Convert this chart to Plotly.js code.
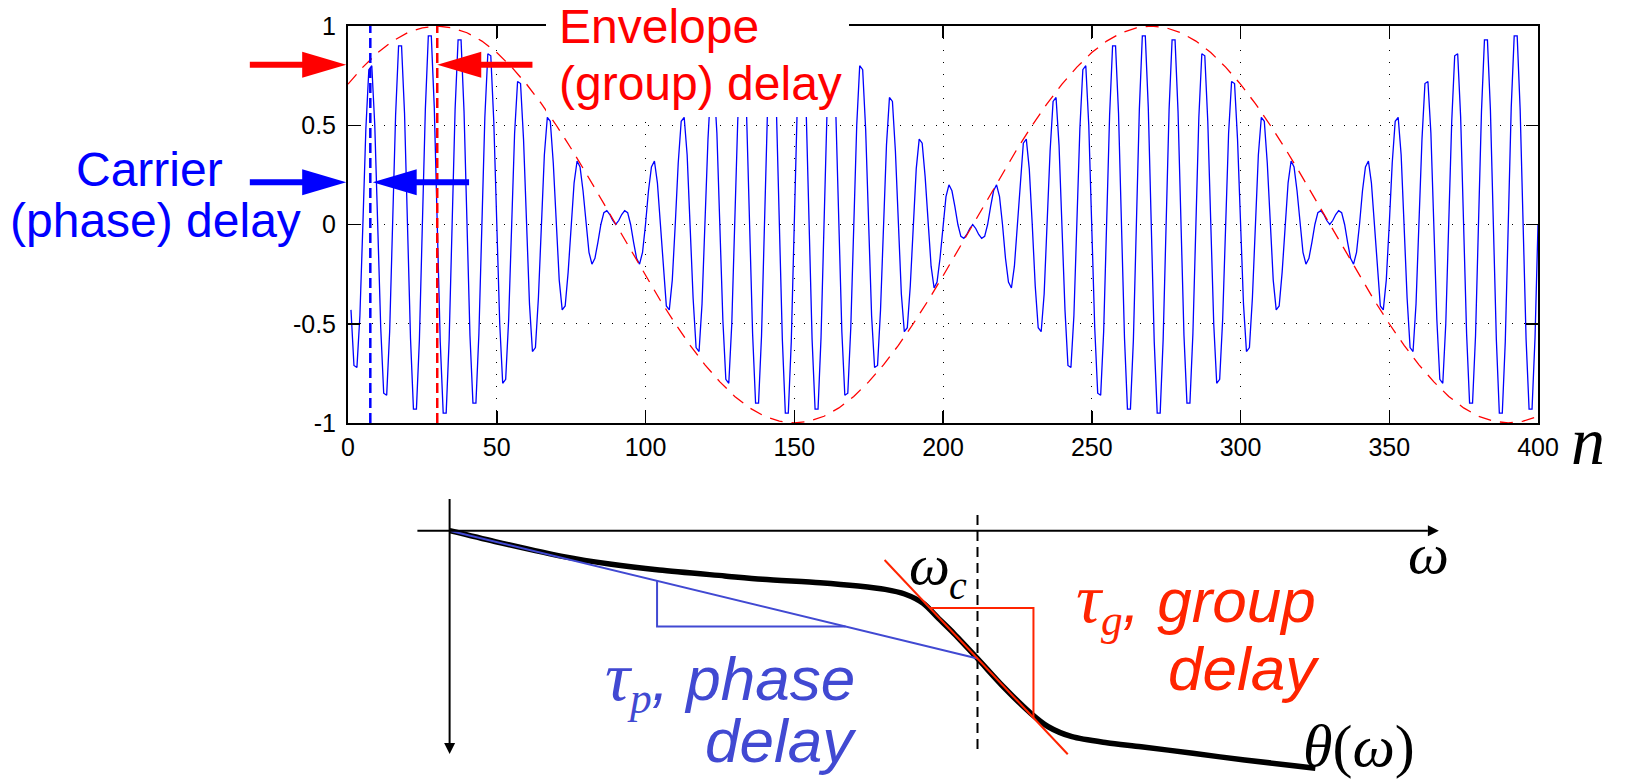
<!DOCTYPE html>
<html><head><meta charset="utf-8">
<script src="https://cdn.plot.ly/plotly-3.0.1.min.js"></script>
<style>html,body{margin:0;padding:0;background:#fff}#chart{width:1630px;height:782px}</style>
</head><body><div id="chart"></div>
<script>
// ---------------- data: top panel (sampled modulated signal) ----------------
const sampleStart = 1; // samples n = 1..400
const signalValues = [
-0.43,-0.71,-0.72,-0.46,0,0.48,0.78,0.80,0.50,0,
-0.52,-0.85,-0.86,-0.54,0,0.55,0.90,0.90,0.56,0,
-0.57,-0.93,-0.93,-0.58,0,0.58,0.95,0.95,0.59,0,
-0.59,-0.95,-0.95,-0.58,0,0.58,0.93,0.93,0.57,0,
-0.56,-0.90,-0.90,-0.55,0,0.54,0.86,0.85,0.52,0,
-0.50,-0.80,-0.78,-0.48,0,0.46,0.72,0.71,0.43,0,
-0.40,-0.64,-0.62,-0.37,0,0.35,0.54,0.52,0.31,0,
-0.28,-0.43,-0.41,-0.24,0,0.21,0.32,0.29,0.17,0,
-0.14,-0.20,-0.17,-0.09,0,0.06,0.07,0.05,0.02,0,
0.02,0.05,0.07,0.06,0,-0.09,-0.17,-0.20,-0.14,0,
0.17,0.29,0.32,0.21,0,-0.24,-0.41,-0.43,-0.28,0,
0.31,0.52,0.54,0.35,0,-0.37,-0.62,-0.64,-0.40,0,
0.43,0.71,0.72,0.46,0,-0.48,-0.78,-0.80,-0.50,0,
0.52,0.85,0.86,0.54,0,-0.55,-0.90,-0.90,-0.56,0,
0.57,0.93,0.93,0.58,0,-0.58,-0.95,-0.95,-0.59,0,
0.59,0.95,0.95,0.58,0,-0.58,-0.93,-0.93,-0.57,0,
0.56,0.90,0.90,0.55,0,-0.54,-0.86,-0.85,-0.52,0,
0.50,0.80,0.78,0.48,0,-0.46,-0.72,-0.71,-0.43,0,
0.40,0.64,0.62,0.37,0,-0.35,-0.54,-0.52,-0.31,0,
0.28,0.43,0.41,0.24,0,-0.21,-0.32,-0.29,-0.17,0,
0.14,0.20,0.17,0.09,0,-0.06,-0.07,-0.05,-0.02,0,
-0.02,-0.05,-0.07,-0.06,0,0.09,0.17,0.20,0.14,0,
-0.17,-0.29,-0.32,-0.21,0,0.24,0.41,0.43,0.28,0,
-0.31,-0.52,-0.54,-0.35,0,0.37,0.62,0.64,0.40,0,
-0.43,-0.71,-0.72,-0.46,0,0.48,0.78,0.80,0.50,0,
-0.52,-0.85,-0.86,-0.54,0,0.55,0.90,0.90,0.56,0,
-0.57,-0.93,-0.93,-0.58,0,0.58,0.95,0.95,0.59,0,
-0.59,-0.95,-0.95,-0.58,0,0.58,0.93,0.93,0.57,0,
-0.56,-0.90,-0.90,-0.55,0,0.54,0.86,0.85,0.52,0,
-0.50,-0.80,-0.78,-0.48,0,0.46,0.72,0.71,0.43,0,
-0.40,-0.64,-0.62,-0.37,0,0.35,0.54,0.52,0.31,0,
-0.28,-0.43,-0.41,-0.24,0,0.21,0.32,0.29,0.17,0,
-0.14,-0.20,-0.17,-0.09,0,0.06,0.07,0.05,0.02,0,
0.02,0.05,0.07,0.06,0,-0.09,-0.17,-0.20,-0.14,0,
0.17,0.29,0.32,0.21,0,-0.24,-0.41,-0.43,-0.28,0,
0.31,0.52,0.54,0.35,0,-0.37,-0.62,-0.64,-0.40,0,
0.43,0.71,0.72,0.46,0,-0.48,-0.78,-0.80,-0.50,0,
0.52,0.85,0.86,0.54,0,-0.55,-0.90,-0.90,-0.56,0,
0.57,0.93,0.93,0.58,0,-0.58,-0.95,-0.95,-0.59,0,
0.59,0.95,0.95,0.58,0,-0.58,-0.93,-0.93,-0.57,0
];
const envelopeN = [0,5,10,15,20,25,30,35,40,45,50,55,60,65,70,75,80,85,90,95,100,105,110,115,120,125,130,135,140,145,150,155,160,165,170,175,180,185,190,195,200,205,210,215,220,225,230,235,240,245,250,255,260,265,270,275,280,285,290,295,300,305,310,315,320,325,330,335,340,345,350,355,360,365,370,375,380,385,390,395,400];
const envelopeValues = [0.707,0.793,0.866,0.924,0.966,0.991,1,0.991,0.966,0.924,0.866,0.793,0.707,0.609,0.5,0.383,0.259,0.131,0,
-0.131,-0.259,-0.383,-0.5,-0.609,-0.707,-0.793,-0.866,-0.924,-0.966,-0.991,-1,-0.991,-0.966,-0.924,-0.866,-0.793,-0.707,-0.609,-0.5,-0.383,-0.259,-0.131,0,
0.131,0.259,0.383,0.5,0.609,0.707,0.793,0.866,0.924,0.966,0.991,1,0.991,0.966,0.924,0.866,0.793,0.707,0.609,0.5,0.383,0.259,0.131,0,
-0.131,-0.259,-0.383,-0.5,-0.609,-0.707,-0.793,-0.866,-0.924,-0.966,-0.991,-1,-0.991,-0.966];
const xTickValues = [0,50,100,150,200,250,300,350,400];
const xTickLabels = ['0','50','100','150','200','250','300','350','400'];
const yTickValues = [-1,-0.5,0,0.5,1];
const yTickLabels = ['-1','-0.5','0','0.5','1'];
const tauPhase = 7.5;   // carrier (phase) delay, samples
const tauGroup = 30;    // envelope (group) delay, samples
const redArrowLevel = 0.805, blueArrowLevel = 0.213;

// ---------------- data: bottom panel (phase response sketch) ----------------
const omegaPts = [0,0.086,0.216,0.303,0.397,0.521,0.593,0.702,0.774,0.825,0.862,0.897,0.926,0.955,1.000,1.049,1.101,1.134,1.179,1.245,1.310,1.408,1.506,1.640];
const thetaPts = [0,-0.085,-0.203,-0.261,-0.308,-0.354,-0.380,-0.407,-0.433,-0.459,-0.495,-0.568,-0.686,-0.803,-1.000,-1.221,-1.429,-1.534,-1.612,-1.659,-1.690,-1.742,-1.794,-1.858];
const omegaC = 1.0, thetaC = -1.0;
const groupSlope = 4.38;                 // -dθ/dω at ωc
const tangentSpan = [0.824, 1.171];
const groupTri = [0.91, 1.106];
const phaseTri = [0.393, 0.75];
const cutoffLineSpan = [0.123, -1.71];
const omegaAxisSpan = [-0.061, 1.874];
const thetaAxisSpan = [0.248, -1.748];

// ---------------- layout helpers ----------------
const W = 1630, H = 782;
const topDomX = [348/W, 1538/W], topDomY = [1-423/H, 1-26/H];
const topRangeX = [0,400], topRangeY = [-1,1];
const tpx = n => topDomX[0] + (n-topRangeX[0])/(topRangeX[1]-topRangeX[0])*(topDomX[1]-topDomX[0]);
const tpy = v => topDomY[0] + (v-topRangeY[0])/(topRangeY[1]-topRangeY[0])*(topDomY[1]-topDomY[0]);
const PX = p => p/W, PY = p => 1 - p/H;
const omegaPerPx = 1/527.9, thetaPerPx = 1/127.8;

const sampleN = signalValues.map((_, i) => sampleStart + i);
const phaseLine = o => -(-thetaC/omegaC)*o;
const tangent = o => thetaC - groupSlope*(o - omegaC);

const BLUE='#0000FF', RED='#FF0000', PBLUE='#4149D2', GRED='#FF2400';
const SANS='Liberation Sans, Arial, Helvetica, sans-serif';
const SERIF='Liberation Serif, Times New Roman, serif';

const traces = [
  {x: sampleN, y: signalValues, type:'scatter', mode:'lines', line:{color:BLUE, width:1.3}, hoverinfo:'skip'},
  {x: envelopeN, y: envelopeValues, type:'scatter', mode:'lines', line:{color:RED, width:1.3, dash:'13px,9px'}, hoverinfo:'skip'},
  {x: [tauPhase,tauPhase], y: topRangeY, type:'scatter', mode:'lines', line:{color:BLUE, width:2.5, dash:'10px,5px'}, hoverinfo:'skip'},
  {x: [tauGroup,tauGroup], y: topRangeY, type:'scatter', mode:'lines', line:{color:RED, width:2.5, dash:'10px,5px'}, hoverinfo:'skip'},
  // bottom panel
  {x: [omegaC,omegaC], y: cutoffLineSpan, xaxis:'x2', yaxis:'y2', type:'scatter', mode:'lines', line:{color:'#000', width:2, dash:'10px,6px'}, hoverinfo:'skip'},
  {x: omegaPts, y: thetaPts, xaxis:'x2', yaxis:'y2', type:'scatter', mode:'lines', line:{color:'#000', width:5.5, shape:'spline', smoothing:0.8}, hoverinfo:'skip'},
  {x: [0, omegaC], y: [phaseLine(0), thetaC], xaxis:'x2', yaxis:'y2', type:'scatter', mode:'lines', line:{color:PBLUE, width:2}, hoverinfo:'skip'},
  {x: [phaseTri[0], phaseTri[0], phaseTri[1]], y: [phaseLine(phaseTri[0]), phaseLine(phaseTri[1]), phaseLine(phaseTri[1])], xaxis:'x2', yaxis:'y2', type:'scatter', mode:'lines', line:{color:PBLUE, width:2}, hoverinfo:'skip'},
  {x: tangentSpan, y: tangentSpan.map(tangent), xaxis:'x2', yaxis:'y2', type:'scatter', mode:'lines', line:{color:GRED, width:2}, hoverinfo:'skip'},
  {x: [groupTri[0], groupTri[1], groupTri[1]], y: [tangent(groupTri[0]), tangent(groupTri[0]), tangent(groupTri[1])], xaxis:'x2', yaxis:'y2', type:'scatter', mode:'lines', line:{color:GRED, width:2}, hoverinfo:'skip'}
];

function arrowShapes(tailN, tipN, level, color){
  const tx = tpx(tailN), hx = tpx(tipN), y = tpy(level);
  const dir = Math.sign(hx - tx);
  const hl = 44/W, hh = 13/H;
  const bx = hx - dir*hl;
  return [
    {type:'line', xref:'paper', yref:'paper', x0:tx, x1:bx + dir*2/W, y0:y, y1:y, line:{color:color, width:6}, layer:'above'},
    {type:'path', xref:'paper', yref:'paper', path:'M'+hx+','+y+' L'+bx+','+(y+hh)+' L'+bx+','+(y-hh)+' Z', fillcolor:color, line:{color:color, width:0}, layer:'above'}
  ];
}

// bottom axis arrows (ω to the right, θ downward)
const hl2 = 11, hw2 = 5.5;
const wTip = omegaAxisSpan[1], tTip = thetaAxisSpan[1];
const axisShapes = [
  {type:'line', xref:'x2', yref:'y2', x0:omegaAxisSpan[0], x1:wTip - hl2*omegaPerPx, y0:0, y1:0, line:{color:'#000', width:2}},
  {type:'path', xref:'x2', yref:'y2', path:'M'+wTip+',0 L'+(wTip-hl2*omegaPerPx)+','+(hw2*thetaPerPx)+' L'+(wTip-hl2*omegaPerPx)+','+(-hw2*thetaPerPx)+' Z', fillcolor:'#000', line:{color:'#000', width:0}},
  {type:'line', xref:'x2', yref:'y2', x0:0, x1:0, y0:thetaAxisSpan[0], y1:tTip + hl2*thetaPerPx, line:{color:'#000', width:2}},
  {type:'path', xref:'x2', yref:'y2', path:'M0,'+tTip+' L'+(hw2*omegaPerPx)+','+(tTip+hl2*thetaPerPx)+' L'+(-hw2*omegaPerPx)+','+(tTip+hl2*thetaPerPx)+' Z', fillcolor:'#000', line:{color:'#000', width:0}}
];

const shapes = [
  {type:'rect', xref:'paper', yref:'paper', x0:PX(546), x1:PX(849), y0:PY(117), y1:1.01, fillcolor:'#fff', line:{width:0}, layer:'above'},
  ...arrowShapes(-33, -0.6, redArrowLevel, RED),
  ...arrowShapes(-33, -0.6, blueArrowLevel, BLUE),
  ...arrowShapes(62, tauGroup, redArrowLevel, RED),
  ...arrowShapes(40.7, tauPhase + 0.8, blueArrowLevel, BLUE),
  ...axisShapes
];

const sty = 'font-family:Liberation Serif;font-style:italic';
const ann = (text, x, y, xa, size, color, family) => ({text, xref:'paper', yref:'paper', x, y, xanchor:xa, yanchor:'middle', showarrow:false, font:{size, color, family}, align: xa==='right'?'right':(xa==='left'?'left':'center')});

const annotations = [
  ann('Carrier', PX(149), PY(169), 'center', 48, BLUE, SANS),
  ann('(phase) delay', PX(155), PY(221), 'center', 48, BLUE, SANS),
  ann('Envelope', PX(557), PY(26), 'left', 48, RED, SANS),
  ann('(group) delay', PX(557), PY(83), 'left', 48, RED, SANS),
  ann('<i>n</i>', PX(1588), PY(441), 'center', 68, '#000', SERIF),
  ann('<i>ω</i>', PX(1428), PY(553), 'center', 58, '#000', SERIF),
  ann('<i>ω</i>', PX(929), PY(564), 'center', 58, '#000', SERIF),
  ann('<i>c</i>', PX(958), PY(585), 'center', 40, '#000', SERIF),
  ann('<span style="'+sty+';font-size:70px">τ</span><sub><span style="'+sty+'">p</span></sub><i>, phase</i>', PX(857), PY(680), 'right', 62, PBLUE, SANS),
  ann('<i>delay</i>', PX(859), PY(740), 'right', 62, PBLUE, SANS),
  ann('<span style="'+sty+';font-size:70px">τ</span><sub><span style="'+sty+'">g</span></sub><i>, group</i>', PX(1318), PY(602), 'right', 62, GRED, SANS),
  ann('<i>delay</i>', PX(1322), PY(668), 'right', 62, GRED, SANS),
  ann('<i>θ</i>(<i>ω</i>)', PX(1301), PY(746), 'left', 60, '#000', SERIF)
];

const axBase = {showline:true, linecolor:'#000', linewidth:2, mirror:'ticks', ticks:'inside', ticklen:12, tickwidth:1.5, tickcolor:'#000',
  showgrid:true, gridcolor:'#000', gridwidth:1, griddash:'1px,11px', zeroline:false, fixedrange:true,
  tickfont:{family:SANS, size:25, color:'#000'}};

const layout = {
  width:W, height:H, margin:{l:0,r:0,t:0,b:0}, showlegend:false,
  paper_bgcolor:'#fff', plot_bgcolor:'rgba(0,0,0,0)',
  xaxis: Object.assign({}, axBase, {domain:topDomX, range:topRangeX, tickmode:'array', tickvals:xTickValues, ticktext:xTickLabels, anchor:'y', ticklabelstandoff:1}),
  yaxis: Object.assign({}, axBase, {domain:topDomY, range:topRangeY, tickmode:'array', tickvals:yTickValues, ticktext:yTickLabels, anchor:'x', ticklabelstandoff:5}),
  xaxis2: {domain:[0,1], range:[(0-449.6)*omegaPerPx, (W-449.6)*omegaPerPx], visible:false, anchor:'y2', fixedrange:true},
  yaxis2: {domain:[0,0.45], range:[-(H-530.7)*thetaPerPx, (530.7-(H-0.45*H))*thetaPerPx], visible:false, anchor:'x2', fixedrange:true},
  shapes, annotations
};

Plotly.newPlot('chart', traces, layout, {displayModeBar:false, staticPlot:true});
</script>
</body></html>
